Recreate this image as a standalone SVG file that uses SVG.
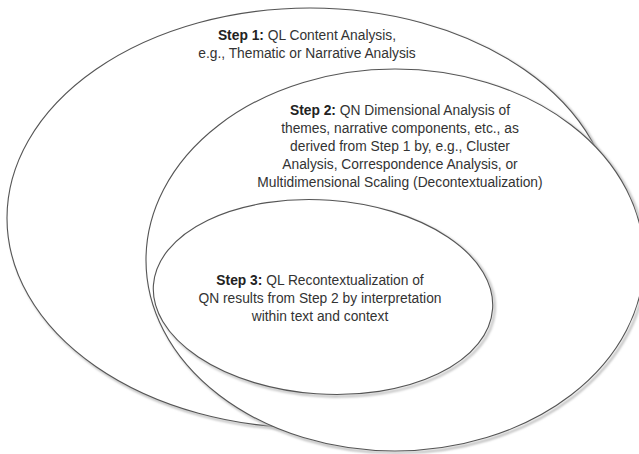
<svg xmlns="http://www.w3.org/2000/svg" width="639" height="454" viewBox="0 0 639 454">
<defs>
<filter id="soft" x="-10%" y="-10%" width="120%" height="120%"><feGaussianBlur stdDeviation="0.8"/></filter>
</defs>
<style>
.ell{fill:#fff;stroke:#555;stroke-width:1.1}
.sh{fill:none;stroke:#bbb;stroke-width:2.2;filter:url(#soft)}
text{font-family:"Liberation Sans",Arial,sans-serif;font-size:13.8px;fill:#333;text-anchor:middle}
.b{font-weight:bold;fill:#222}
</style>
<rect width="639" height="454" fill="#fff"/>
<g id="step1">
<ellipse class="sh" cx="312" cy="220" rx="303" ry="210"/>
<ellipse class="ell" cx="310" cy="218" rx="303" ry="210"/>
<text x="307" y="40"><tspan class="b">Step 1:</tspan> QL Content Analysis,</text>
<text x="307" y="58">e.g., Thematic or Narrative Analysis</text>
</g>
<g id="step2">
<ellipse class="sh" cx="397" cy="262" rx="249" ry="191"/>
<ellipse class="ell" cx="395" cy="260" rx="249" ry="191"/>
<text x="400" y="115"><tspan class="b">Step 2:</tspan> QN Dimensional Analysis of</text>
<text x="400" y="133">themes, narrative components, etc., as</text>
<text x="400" y="151">derived from Step 1 by, e.g., Cluster</text>
<text x="400" y="169">Analysis, Correspondence Analysis, or</text>
<text x="400" y="187">Multidimensional Scaling (Decontextualization)</text>
</g>
<g id="step3">
<ellipse class="sh" cx="325" cy="299" rx="170" ry="97" transform="rotate(4 325 299)"/>
<ellipse class="ell" cx="323" cy="297" rx="170" ry="97" transform="rotate(4 323 297)"/>
<text x="320" y="285"><tspan class="b">Step 3:</tspan> QL Recontextualization of</text>
<text x="320" y="303">QN results from Step 2 by interpretation</text>
<text x="320" y="321">within text and context</text>
</g>
<g id="connectors"></g>
</svg>
